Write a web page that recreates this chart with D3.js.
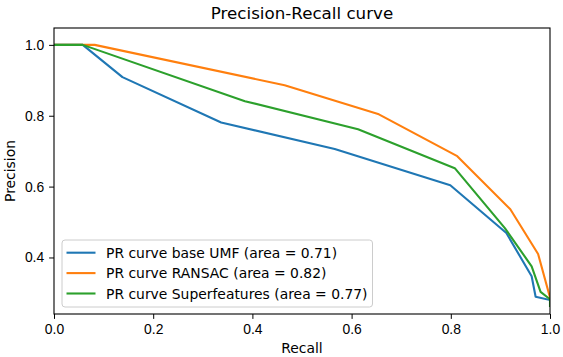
<!DOCTYPE html>
<html>
<head>
<meta charset="utf-8">
<script src="https://cdn.jsdelivr.net/npm/d3@7"></script>
<style>
  body { margin: 0; background: #fff; }
  svg { display: block; font-family: "DejaVu Sans", sans-serif; }
  .tick text { font-size: 13.9px; fill: #000; }
  .tick line, .domain { stroke: #000; }
</style>
</head>
<body>
<div id="chart"></div>
<script>
// PR curves
const baseRecall = [0, 0.058, 0.138, 0.337, 0.566, 0.799, 0.912, 0.963, 0.971, 1.0];
const basePrecision = [1.0, 1.0, 0.909, 0.781, 0.706, 0.604, 0.469, 0.347, 0.289, 0.280];

const ransacRecall = [0, 0.082, 0.465, 0.655, 0.813, 0.920, 0.976, 1.0];
const ransacPrecision = [1.0, 1.0, 0.886, 0.804, 0.686, 0.536, 0.410, 0.287];

const superRecall = [0, 0.058, 0.385, 0.613, 0.808, 0.909, 0.963, 0.981, 1.0, 1.0];
const superPrecision = [1.0, 1.0, 0.841, 0.762, 0.652, 0.483, 0.375, 0.303, 0.282, 0.263];

const seriesNames = [
  "PR curve base UMF (area = 0.71)",
  "PR curve RANSAC (area = 0.82)",
  "PR curve Superfeatures (area = 0.77)"
];
const seriesColors = ["#1f77b4", "#ff7f0e", "#2ca02c"];
const xTicks = [0, 0.2, 0.4, 0.6, 0.8, 1.0];
const yTicks = [0.4, 0.6, 0.8, 1.0];

const W = 563, H = 357;
const margin = { top: 28, right: 13, bottom: 43, left: 54 };
const width = W - margin.left - margin.right;
const height = H - margin.top - margin.bottom;

const svg = d3.select("#chart").append("svg")
  .attr("width", W).attr("height", H);

const g = svg.append("g")
  .attr("transform", `translate(${margin.left},${margin.top})`);

const x = d3.scaleLinear().domain([0, 1]).range([0, width]);
const y = d3.scaleLinear().domain([0.2405, 1.0476]).range([height, 0]);

const series = [
  { name: seriesNames[0], color: seriesColors[0], xs: baseRecall, ys: basePrecision },
  { name: seriesNames[1], color: seriesColors[1], xs: ransacRecall, ys: ransacPrecision },
  { name: seriesNames[2], color: seriesColors[2], xs: superRecall, ys: superPrecision }
];

const line = d3.line().x(d => x(d[0])).y(d => y(d[1]));

g.append("defs").append("clipPath").attr("id", "clip")
  .append("rect").attr("width", width).attr("height", height);

g.append("g").attr("clip-path", "url(#clip)")
  .selectAll("path")
  .data(series)
  .join("path")
  .attr("d", d => line(d.xs.map((v, i) => [v, d.ys[i]])))
  .attr("fill", "none")
  .attr("stroke", d => d.color)
  .attr("stroke-width", 2.1)
  .attr("stroke-linejoin", "round")
  .attr("stroke-linecap", "square");

// Axes
g.append("g")
  .attr("transform", `translate(0,${height})`)
  .call(d3.axisBottom(x).tickValues(xTicks).tickFormat(d3.format(".1f")).tickSize(4.9).tickPadding(4.9))
  .call(a => a.select(".domain").remove());

g.append("g")
  .call(d3.axisLeft(y).tickValues(yTicks).tickFormat(d3.format(".1f")).tickSize(4.9).tickPadding(4.9))
  .call(a => a.select(".domain").remove());

// frame
g.append("rect")
  .attr("width", width).attr("height", height)
  .attr("fill", "none").attr("stroke", "#000").attr("stroke-width", 1.1);

// Titles
svg.append("text")
  .attr("x", margin.left + width / 2).attr("y", 19)
  .attr("text-anchor", "middle").attr("font-size", 16.7)
  .text("Precision-Recall curve");

svg.append("text")
  .attr("x", margin.left + width / 2).attr("y", 353)
  .attr("text-anchor", "middle").attr("font-size", 13.9)
  .text("Recall");

svg.append("text")
  .attr("transform", `translate(15,${margin.top + height / 2}) rotate(-90)`)
  .attr("text-anchor", "middle").attr("font-size", 13.9)
  .text("Precision");

// Legend
const legend = g.append("g").attr("transform", "translate(8,212)");
legend.append("rect")
  .attr("width", 310.5).attr("height", 67).attr("rx", 3)
  .attr("fill", "#fff").attr("fill-opacity", 0.8)
  .attr("stroke", "#ccc").attr("stroke-width", 1);

series.forEach((s, i) => {
  const yy = 12.7 + i * 20.4;
  legend.append("line")
    .attr("x1", 4.5).attr("x2", 33.5).attr("y1", yy).attr("y2", yy)
    .attr("stroke", s.color).attr("stroke-width", 2.1);
  legend.append("text")
    .attr("x", 44).attr("y", yy).attr("dy", "0.36em")
    .attr("font-size", 13.9)
    .text(s.name);
});
</script>
</body>
</html>
